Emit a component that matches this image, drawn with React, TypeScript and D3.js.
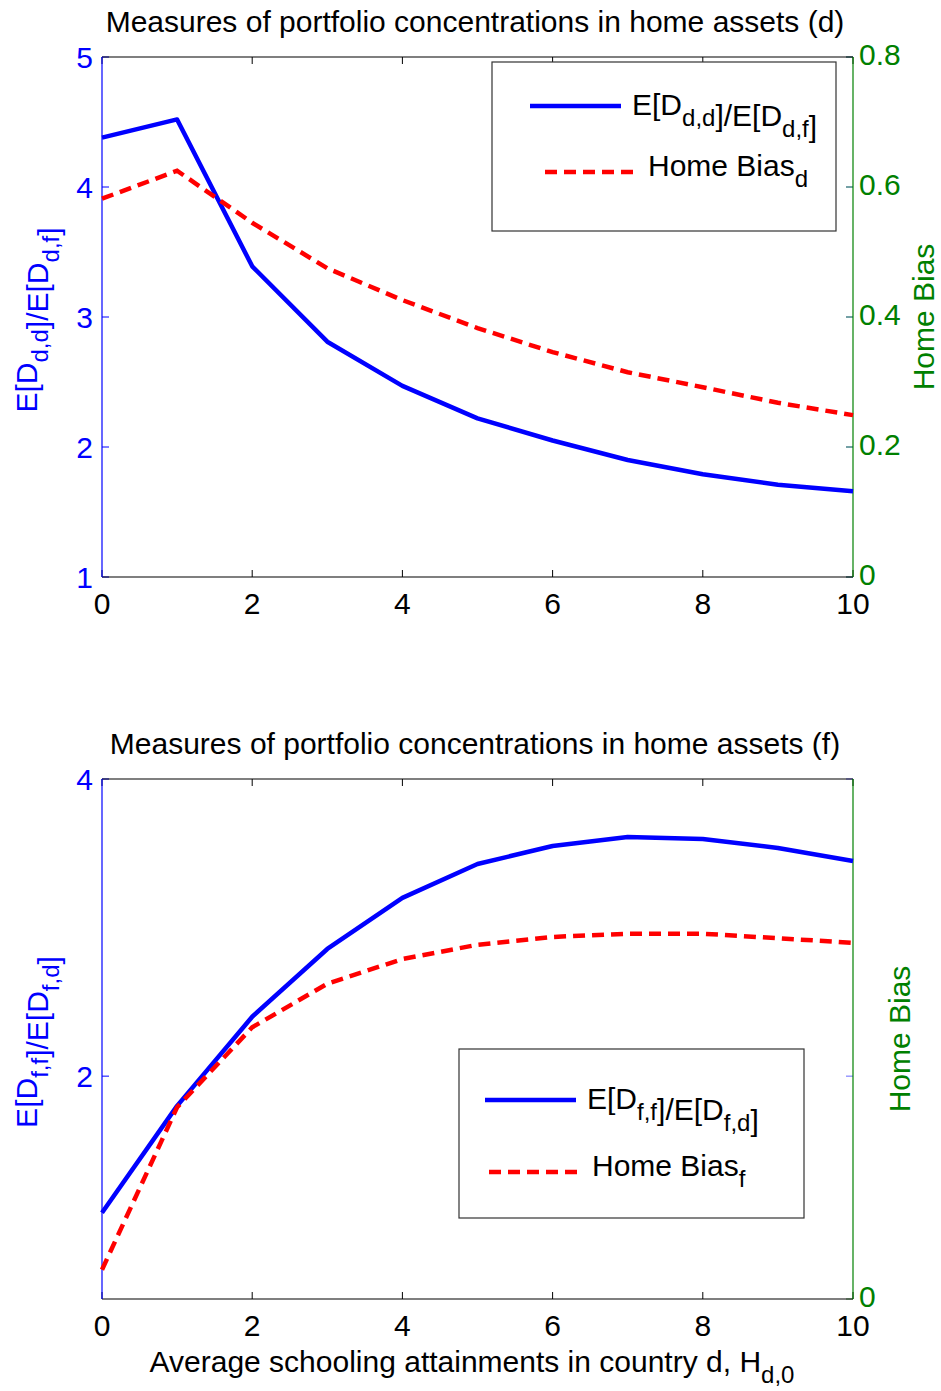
import * as d3 from 'd3';
import React from 'react';

// schooling attainment H_d,0
const schooling = [0, 1, 2, 3, 4, 5, 6, 7, 8, 9, 10];

// panel (d)
const ratioD = [4.38, 4.52, 3.39, 2.81, 2.47, 2.22, 2.05, 1.9, 1.79, 1.71, 1.66];
const homeBiasD = [0.582, 0.625, 0.545, 0.475, 0.426, 0.383, 0.346, 0.315, 0.292, 0.268, 0.249];

// panel (f)
const ratioF = [1.08, 1.8, 2.4, 2.856, 3.2, 3.428, 3.549, 3.61, 3.596, 3.536, 3.448];
const homeBiasF = [0.045, 0.295, 0.418, 0.485, 0.523, 0.545, 0.557, 0.562, 0.562, 0.555, 0.548];

const xTicks = [0, 2, 4, 6, 8, 10];
const leftTicksD = [1, 2, 3, 4, 5];
const rightTicksD = [0, 0.2, 0.4, 0.6, 0.8];
const leftTicksF = [2, 4];
const rightTicksF = [0];

const BLUE = '#0000ff';
const RED = '#ff0000';
const GREEN = '#008000';
const FONT = '"Liberation Sans", Arial, sans-serif';
const FS = 30;

const W = 941;
const H = 1391;
const left = 102;
const right = 853;
const tick = 7;

function Sub({ main, sub }) {
    return (
        <>
            <tspan>{main}</tspan>
            <tspan dy={11} fontSize={24}>{sub}</tspan>
            <tspan dy={-11}>{''}</tspan>
        </>
    );
}

function Panel({ top, bottom, title, leftDomain, rightDomain, leftTicks, rightTicks, ratio, bias, leftLabel, legend, rightLabelX }) {
    const x = d3.scaleLinear().domain([0, 10]).range([left, right]);
    const yL = d3.scaleLinear().domain(leftDomain).range([bottom, top]);
    const yR = d3.scaleLinear().domain(rightDomain).range([bottom, top]);

    const lineL = d3.line().x((d, i) => x(schooling[i])).y(d => yL(d));
    const lineR = d3.line().x((d, i) => x(schooling[i])).y(d => yR(d));
    const mid = (top + bottom) / 2;
    const lg = legend;

    return (
        <g fontFamily={FONT}>
            <text x={475} y={top - 25} fontSize={FS} textAnchor="middle" fill="#000">{title}</text>

            {/* x ticks top + bottom */}
            {xTicks.map(t => (
                <g key={t}>
                    <line x1={x(t)} x2={x(t)} y1={bottom} y2={bottom - tick} stroke="#000" />
                    <line x1={x(t)} x2={x(t)} y1={top} y2={top + tick} stroke="#000" />
                    <text x={x(t)} y={bottom + 37} fontSize={FS} textAnchor="middle" fill="#000">{t}</text>
                </g>
            ))}

            {/* left ticks, mirrored on right */}
            {leftTicks.map(t => (
                <g key={'l' + t}>
                    <line x1={left} x2={left + tick} y1={yL(t)} y2={yL(t)} stroke={BLUE} />
                    <line x1={right} x2={right - tick} y1={yL(t)} y2={yL(t)} stroke={BLUE} strokeOpacity={0.6} />
                    <text x={93} y={yL(t)} dy="0.36em" fontSize={FS} textAnchor="end" fill={BLUE}>{t}</text>
                </g>
            ))}
            {rightTicks.map(t => (
                <g key={'r' + t}>
                    <line x1={right} x2={right - tick} y1={yR(t)} y2={yR(t)} stroke={GREEN} strokeOpacity={0.7} />
                    <text x={859} y={yR(t)} dy="0.28em" fontSize={FS} textAnchor="start" fill={GREEN}>{t}</text>
                </g>
            ))}

            {/* axes */}
            <line x1={left} x2={right} y1={top} y2={top} stroke="#000" strokeWidth={1.2} />
            <line x1={left} x2={right} y1={bottom} y2={bottom} stroke="#000" strokeWidth={1.2} />
            <line x1={left} x2={left} y1={top} y2={bottom} stroke={BLUE} strokeWidth={1.2} />
            <line x1={right} x2={right} y1={top} y2={bottom} stroke={GREEN} strokeWidth={1.2} />

            {/* series */}
            <path d={lineL(ratio)} fill="none" stroke={BLUE} strokeWidth={4.5} strokeLinejoin="round" />
            <path d={lineR(bias)} fill="none" stroke={RED} strokeWidth={4.5} strokeDasharray="12,7" />

            {/* axis labels */}
            <text transform={`translate(37, ${mid + 3}) rotate(-90)`} fontSize={FS} textAnchor="middle" fill={BLUE}>
                {leftLabel}
            </text>
            <text transform={`translate(${rightLabelX}, ${mid}) rotate(-90)`} fontSize={FS} textAnchor="middle" fill={GREEN}>
                Home Bias
            </text>

            {/* legend */}
            <rect x={lg.x} y={lg.y} width={lg.w} height={lg.h} fill="#fff" stroke="#333" strokeWidth={1.2} />
            <line x1={lg.x + lg.s1} x2={lg.x + lg.s1 + 91} y1={lg.y + lg.y1} y2={lg.y + lg.y1} stroke={BLUE} strokeWidth={4.5} />
            <text x={lg.x + lg.s1 + 102} y={lg.y + lg.y1 + 9} fontSize={FS} fill="#000">{lg.first}</text>
            <line x1={lg.x + lg.s2} x2={lg.x + lg.s2 + 88} y1={lg.y + lg.y2} y2={lg.y + lg.y2} stroke={RED} strokeWidth={4.5} strokeDasharray="12,7" />
            <text x={lg.x + lg.s2 + 103} y={lg.y + lg.y2 + 4} fontSize={FS} fill="#000">{lg.second}</text>
        </g>
    );
}

export default function App() {
    return (
        <svg width={W} height={H} style={{ position: 'absolute', left: 0, top: 0, background: '#fff' }}>
            <rect width={W} height={H} fill="#fff" />
            <Panel
                top={57}
                bottom={577}
                title="Measures of portfolio concentrations in home assets (d)"
                leftDomain={[1, 5]}
                rightDomain={[0, 0.8]}
                leftTicks={leftTicksD}
                rightTicks={rightTicksD}
                ratio={ratioD}
                bias={homeBiasD}
                rightLabelX={934}
                leftLabel={<>E[<Sub main="D" sub="d,d" />]/E[<Sub main="D" sub="d,f" />]</>}
                legend={{
                    x: 492, y: 62, w: 344, h: 169, s1: 38, y1: 44, s2: 53, y2: 110,
                    first: <>E[<Sub main="D" sub="d,d" />]/E[<Sub main="D" sub="d,f" />]</>,
                    second: <Sub main="Home Bias" sub="d" />,
                }}
            />
            <Panel
                top={779}
                bottom={1299}
                title="Measures of portfolio concentrations in home assets (f)"
                leftDomain={[0.5, 4]}
                rightDomain={[0, 0.8]}
                leftTicks={leftTicksF}
                rightTicks={rightTicksF}
                ratio={ratioF}
                bias={homeBiasF}
                rightLabelX={910}
                leftLabel={<>E[<Sub main="D" sub="f,f" />]/E[<Sub main="D" sub="f,d" />]</>}
                legend={{
                    x: 459, y: 1049, w: 345, h: 169, s1: 26, y1: 51, s2: 30, y2: 123,
                    first: <>E[<Sub main="D" sub="f,f" />]/E[<Sub main="D" sub="f,d" />]</>,
                    second: <Sub main="Home Bias" sub="f" />,
                }}
            />
            <text x={472} y={1372} fontSize={FS} textAnchor="middle" fontFamily={FONT} fill="#000">
                Average schooling attainments in country d, <Sub main="H" sub="d,0" />
            </text>
        </svg>
    );
}
